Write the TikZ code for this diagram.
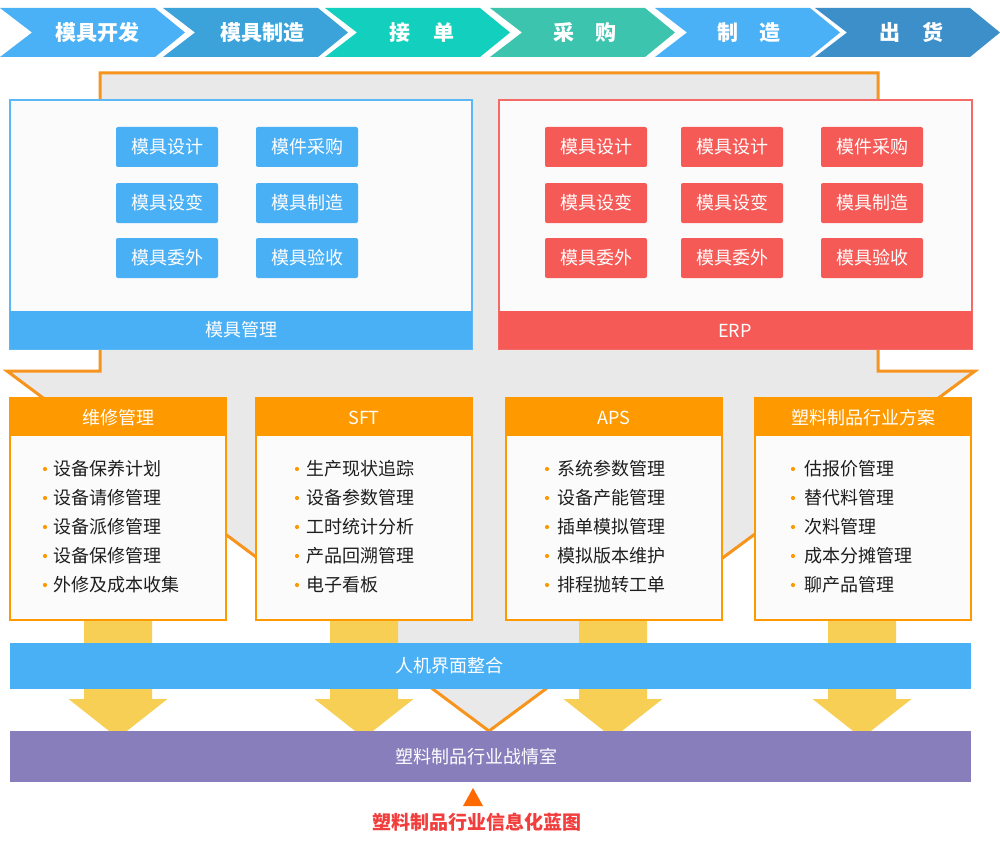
\documentclass[tikz,border=0pt]{standalone}
\usepackage{fontspec}
\setmainfont{Noto Sans CJK SC}
\definecolor{cA}{HTML}{4BB1F6}
\definecolor{cB}{HTML}{3BA3D9}
\definecolor{cC}{HTML}{12D0BD}
\definecolor{cD}{HTML}{3DC4AF}
\definecolor{cE}{HTML}{3C8FC9}
\definecolor{grayF}{HTML}{E9E9E9}
\definecolor{orL}{HTML}{F7941D}
\definecolor{orH}{HTML}{FF9900}
\definecolor{blueM}{HTML}{4AB0F6}
\definecolor{blueB}{HTML}{5CB8F5}
\definecolor{redM}{HTML}{F55A56}
\definecolor{redB}{HTML}{F46A66}
\definecolor{panelF}{HTML}{FBFBFB}
\definecolor{yel}{HTML}{F7CF55}
\definecolor{purp}{HTML}{897EBC}
\definecolor{triO}{HTML}{FF6A00}
\definecolor{capR}{HTML}{F23D3D}
\definecolor{txtD}{HTML}{1E1E1E}
\tikzset{
  txt/.style={inner sep=0pt, font=\fontsize{18}{18}\selectfont},
  chevtxt/.style={inner sep=0pt, text=white, font=\fontsize{21}{21}\selectfont\bfseries},
  btnbox/.style={txt, text=white, minimum width=102pt, minimum height=40pt, rounded corners=2pt},
  panelbox/.style={anchor=north west, fill=panelF, line width=1.5pt, minimum width=462pt, minimum height=249pt, inner sep=0pt, outer sep=0pt},
  itembox/.style={anchor=north west, fill=panelF, draw=orH, line width=1.6pt, minimum width=216pt, minimum height=222pt, inner sep=0pt, outer sep=0pt},
  itemtxt/.style={txt, text=txtD, anchor=west},
  hdrtxt/.style={txt, text=white},
  yarrow/.style={fill=yel},
}
\begin{document}
\begin{tikzpicture}[x=1pt,y=-1pt]
\useasboundingbox (0,0) rectangle (1000,853);
\fill[white] (0,0) rectangle (1000,853);

% top chevrons
\foreach \L/\col/\txt/\tx [count=\k] in {0/cA/模具开发/97, 163/cB/模具制造/262, 325/cC/接\hspace{24pt}单/422, 490/cD/采\hspace{22pt}购/585, 655/cA/制\hspace{22pt}造/749, 815/cE/出\hspace{22pt}货/911}{
  \fill[\col] (\L,8) -- (\L+155,8) -- (\L+185,32.5) -- (\L+155,57) -- (\L,57) -- (\L+32,32.5) -- cycle;
  \node[chevtxt] (chev\k) at (\tx,32.5) {\txt};
}

% big grey arrow
\filldraw[fill=grayF, draw=orL, line width=3pt] (100,73) -- (878,73) -- (878,371) -- (975,371) -- (489,731) -- (7,371) -- (100,371) -- cycle;

% left panel
\node[panelbox, draw=blueB] (mjpanel) at (10,100) {};
\fill[blueM] (10,311) rectangle (472,349);
\node[hdrtxt] (mjlabel) at (241,330) {模具管理};
\node[btnbox, fill=blueM] (m11) at (167,147) {模具设计};
\node[btnbox, fill=blueM] (m12) at (307,147) {模件采购};
\node[btnbox, fill=blueM] (m21) at (167,203) {模具设变};
\node[btnbox, fill=blueM] (m22) at (307,203) {模具制造};
\node[btnbox, fill=blueM] (m31) at (167,258) {模具委外};
\node[btnbox, fill=blueM] (m32) at (307,258) {模具验收};

% right panel
\node[panelbox, draw=redB, minimum width=473pt] (erppanel) at (499,100) {};
\fill[redM] (499,311) rectangle (972,349);
\node[hdrtxt] (erplabel) at (735,331) {ERP};
\node[btnbox, fill=redM] (e11) at (596,147) {模具设计};
\node[btnbox, fill=redM] (e12) at (732,147) {模具设计};
\node[btnbox, fill=redM] (e13) at (872,147) {模件采购};
\node[btnbox, fill=redM] (e21) at (596,203) {模具设变};
\node[btnbox, fill=redM] (e22) at (732,203) {模具设变};
\node[btnbox, fill=redM] (e23) at (872,203) {模具制造};
\node[btnbox, fill=redM] (e31) at (596,258) {模具委外};
\node[btnbox, fill=redM] (e32) at (732,258) {模具委外};
\node[btnbox, fill=redM] (e33) at (872,258) {模具验收};

% yellow arrows
\foreach \c [count=\k] in {118,364,613,862}{
  \fill[yarrow] (\c-34,620) -- (\c+34,620) -- (\c+34,699) -- (\c+49.5,699) -- (\c,738) -- (\c-49.5,699) -- (\c-34,699) -- cycle;
  \coordinate (ya\k) at (\c,738);
}

% four module boxes
\foreach \bx/\bl/\tl/\hd/\la/\lb/\lc/\ld/\le [count=\k] in {
  10/45/53/维修管理/设备保养计划/设备请修管理/设备派修管理/设备保修管理/外修及成本收集,
  256/297/306/SFT/生产现状追踪/设备参数管理/工时统计分析/产品回溯管理/电子看板,
  506/547/557/APS/系统参数管理/设备产能管理/插单模拟管理/模拟版本维护/排程抛转工单,
  755/793/804/塑料制品行业方案/估报价管理/替代料管理/次料管理/成本分摊管理/聊产品管理}{
  \node[itembox] (box\k) at (\bx,398) {};
  \fill[orH] (\bx,398) rectangle (\bx+216,436);
  \node[hdrtxt] (hd\k) at (\bx+108,418) {\hd};
  \foreach \t/\yy in {\la/469,\lb/498,\lc/527,\ld/556,\le/585}{
    \fill[orH] (\bl,\yy) circle (2.1pt);
    \node[itemtxt] at (\tl,\yy) {\t};
  }
}

% bars
\fill[blueM] (10,643) rectangle (971,689);
\node[txt, text=white, anchor=west] (hmi) at (395,666) {人机界面整合};
\fill[purp] (10,731) rectangle (971,782);
\node[txt, text=white, anchor=west] (war) at (395,757) {塑料制品行业战情室};

% caption
\fill[triO] (473,788) -- (483,806) -- (463,806) -- cycle;
\node[inner sep=0pt, text=capR, font=\fontsize{19}{19}\selectfont\bfseries] (cap) at (477,822) {塑料制品行业信息化蓝图};
\end{tikzpicture}
\end{document}
